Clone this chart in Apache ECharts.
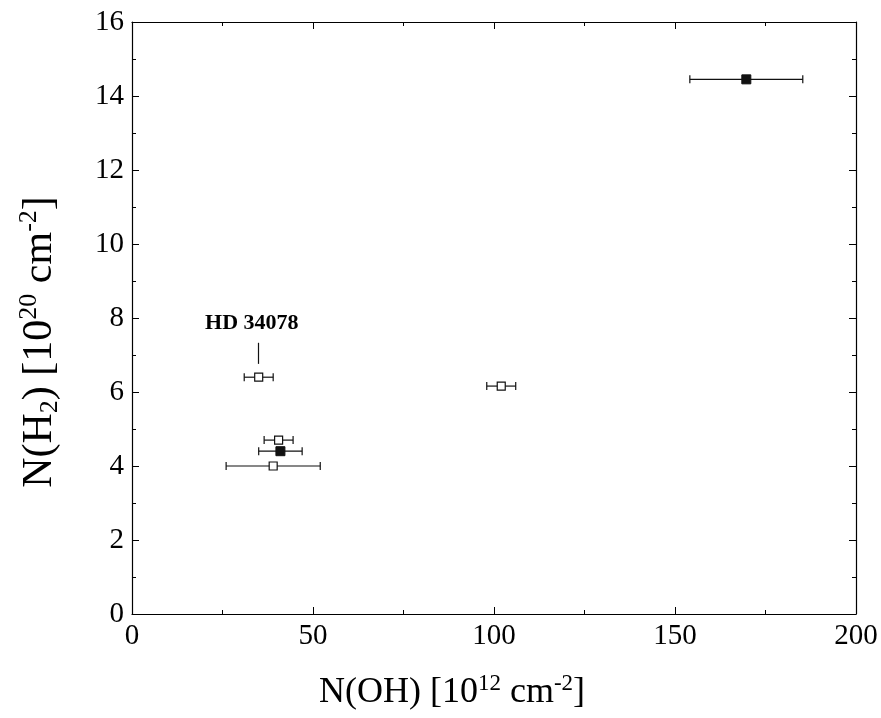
<!DOCTYPE html>
<html>
<head>
<meta charset="utf-8">
<script src="https://cdn.jsdelivr.net/npm/echarts@6/dist/echarts.min.js"></script>
<style>
  html, body { margin: 0; padding: 0; background: #fff; }
  #chart { width: 881px; height: 718px; }
</style>
</head>
<body>
<div id="chart"></div>
<script>
// N(OH) values, their errors, and N(H2) values
const ohValues = [35.0, 40.5, 41.0, 39.0, 102.0, 169.7];
const ohErrors = [4.0, 4.0, 6.0, 13.0, 4.0, 15.6];
const h2Values = [6.40, 4.70, 4.40, 4.00, 6.16, 14.45];
const filled = [false, false, true, false, false, true];

const xTicks = [0, 50, 100, 150, 200];
const yTicks = [0, 2, 4, 6, 8, 10, 12, 14, 16];

const labelText = 'HD 34078';
const labelPos = [33.1, 7.86];
const leaderLine = [[35.0, 6.76], [35.0, 7.33]];

var myChart = echarts.init(document.getElementById('chart'));

const font = 'Liberation Serif';
const openPts = [], filledPts = [], errData = [];
ohValues.forEach((x, i) => {
  errData.push([x, h2Values[i], ohErrors[i]]);
  (filled[i] ? filledPts : openPts).push([x, h2Values[i]]);
});

const xMin = xTicks[0], xMax = xTicks[xTicks.length - 1];
const yMin = yTicks[0], yMax = yTicks[yTicks.length - 1];

const tickStyle = { show: true, inside: true, length: 7, lineStyle: { color: '#000', width: 1 } };
const minorStyle = { show: true, splitNumber: 2, length: 4, lineStyle: { color: '#000', width: 1 } };
const lineStyle = { show: true, onZero: false, lineStyle: { color: '#000', width: 1.2 } };
const richX = {
  n: { fontFamily: font, fontSize: 36, color: '#000' },
  sup: { fontFamily: font, fontSize: 23, color: '#000', padding: [0, 0, 19, 0] }
};
const richY = {
  n: { fontFamily: font, fontSize: 42, color: '#000' },
  sup: { fontFamily: font, fontSize: 26, color: '#000', padding: [0, 0, 22, 0] },
  sub: { fontFamily: font, fontSize: 26, color: '#000', padding: [20, 0, 0, 0] }
};

function frameAxis(type, pos) {
  return {
    type: 'value', position: pos,
    min: type === 'x' ? xMin : yMin, max: type === 'x' ? xMax : yMax,
    interval: type === 'x' ? 50 : 2,
    axisLine: lineStyle, axisTick: tickStyle, minorTick: minorStyle,
    splitLine: { show: false }, axisLabel: { show: false }
  };
}

const xMain = frameAxis('x', 'bottom');
Object.assign(xMain, {
  axisLabel: { color: '#000', fontFamily: font, fontSize: 29, margin: 8 },
  name: '{n|N(OH) [10}{sup|12}{n| cm}{sup|-2}{n|]}',
  nameLocation: 'middle', nameGap: 58,
  nameTextStyle: { rich: richX, padding: [0, 84, 0, 0] }
});
const yMain = frameAxis('y', 'left');
Object.assign(yMain, {
  axisLabel: { color: '#000', fontFamily: font, fontSize: 29, margin: 8 },
  name: '{n|N(H}{sub|2}{n|) [10}{sup|20}{n| cm}{sup|-2}{n|]}',
  nameLocation: 'middle', nameGap: 68, nameRotate: 90,
  nameTextStyle: { rich: richY, padding: [0, 48, 0, 0] }
});

myChart.setOption({
  animation: false,
  grid: { left: 132, right: 25, top: 22, bottom: 104 },
  xAxis: [xMain, frameAxis('x', 'top')],
  yAxis: [yMain, frameAxis('y', 'right')],
  series: [
    {
      type: 'custom',
      data: errData,
      z: 1,
      renderItem: function (params, api) {
        const x = api.value(0), y = api.value(1), e = api.value(2);
        const p1 = api.coord([x - e, y]);
        const p2 = api.coord([x + e, y]);
        const cap = 4;
        const st = { stroke: '#111', lineWidth: 1.2 };
        return {
          type: 'group',
          children: [
            { type: 'line', shape: { x1: p1[0], y1: p1[1], x2: p2[0], y2: p2[1] }, style: st },
            { type: 'line', shape: { x1: p1[0], y1: p1[1] - cap, x2: p1[0], y2: p1[1] + cap }, style: st },
            { type: 'line', shape: { x1: p2[0], y1: p2[1] - cap, x2: p2[0], y2: p2[1] + cap }, style: st }
          ]
        };
      }
    },
    {
      type: 'scatter',
      data: openPts,
      symbol: 'rect', symbolSize: 8,
      z: 3,
      itemStyle: { color: '#fff', borderColor: '#111', borderWidth: 1.2, opacity: 1 }
    },
    {
      type: 'scatter',
      data: filledPts,
      symbol: 'rect', symbolSize: 9,
      z: 3,
      itemStyle: { color: '#111', borderColor: '#111', borderWidth: 1, opacity: 1 }
    },
    {
      type: 'scatter',
      data: [labelPos],
      symbolSize: 0,
      silent: true,
      itemStyle: { opacity: 1 },
      label: {
        show: true, position: 'inside', formatter: labelText,
        fontFamily: font, fontWeight: 'bold', fontSize: 22, color: '#000'
      },
      markLine: {
        silent: true, symbol: 'none', label: { show: false },
        lineStyle: { color: '#111', width: 1.2, type: 'solid', opacity: 1 },
        data: [[{ coord: leaderLine[0] }, { coord: leaderLine[1] }]]
      }
    }
  ]
});
</script>
</body>
</html>
